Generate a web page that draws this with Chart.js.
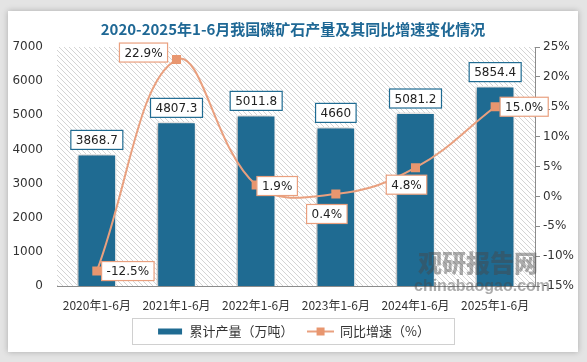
<!DOCTYPE html>
<html lang="zh">
<head>
    <meta charset="UTF-8">
    <title>2020-2025年1-6月我国磷矿石产量及其同比增速变化情况</title>
    <style>
        body {
            margin: 0;
            padding: 0;
            width: 587px;
            height: 362px;
            background-color: #e4e4e4;
            font-family: "Noto Sans CJK SC", "Noto Sans", sans-serif;
            overflow: hidden;
        }

        #card {
            position: absolute;
            left: 8px;
            top: 11px;
            width: 570px;
            height: 341px;
            background-color: #fff;
            box-shadow: 0 0 6px rgba(0, 0, 0, 0.25);
        }

        .wm {
            position: absolute;
            color: rgba(70, 70, 70, 0.45);
            pointer-events: none;
            line-height: 1;
            white-space: nowrap;
        }

        #wm-cn {
            left: 418px;
            top: 250px;
            font-size: 24px;
            font-weight: 900;
        }

        #wm-en {
            left: 414px;
            top: 278px;
            font-family: "Liberation Sans", sans-serif;
            font-size: 16px;
            font-weight: bold;
        }
    </style>
    <script src="https://cdn.jsdelivr.net/npm/chart.js"></script>
</head>
<body>

<div id="card">
    <canvas id="phosphateChart"></canvas>
</div>
<div class="wm" id="wm-cn">观研报告网</div>
<div class="wm" id="wm-en">chinabaogao.com</div>

<script>
    // data
    const categories = ['2020年1-6月', '2021年1-6月', '2022年1-6月', '2023年1-6月', '2024年1-6月', '2025年1-6月'];
    const output = [3868.7, 4807.3, 5011.8, 4660, 5081.2, 5854.4];
    const growth = [-12.5, 22.9, 1.9, 0.4, 4.8, 15.0];
    const leftTicks = [0, 1000, 2000, 3000, 4000, 5000, 6000, 7000];
    const rightTicks = [-15, -10, -5, 0, 5, 10, 15, 20, 25];

    // where each growth label sits, relative to its point (centre offset)
    const growthLabelOffsets = [[31, 0], [-33, -7], [21, 1], [-9, 20], [-9, 17], [29, 0]];

    const barColor = '#1f6b92';
    const lineColor = '#e9a07f';
    const markerColor = '#e8966f';

    function makeHatch() {
        const c = document.createElement('canvas');
        c.width = 5;
        c.height = 5;
        const g = c.getContext('2d');
        g.strokeStyle = '#d4d4d4';
        g.lineWidth = 1;
        g.beginPath();
        g.moveTo(-1, -1); g.lineTo(6, 6);
        g.moveTo(-1, 4); g.lineTo(1, 6);
        g.moveTo(4, -1); g.lineTo(6, 1);
        g.stroke();
        return c;
    }

    function legendIcon(kind) {
        const c = document.createElement('canvas');
        c.width = 27;
        c.height = 10;
        const g = c.getContext('2d');
        if (kind === 'bar') {
            g.fillStyle = barColor;
            g.fillRect(2, 2, 24, 6);
        } else {
            g.strokeStyle = lineColor;
            g.lineWidth = 2;
            g.beginPath();
            g.moveTo(0, 5); g.lineTo(27, 5);
            g.stroke();
            g.fillStyle = markerColor;
            g.fillRect(10, 1, 8, 8);
        }
        return c;
    }

    const hatchPlugin = {
        id: 'hatch',
        beforeDraw(chart) {
            const a = chart.chartArea;
            const ctx = chart.ctx;
            ctx.save();
            ctx.fillStyle = ctx.createPattern(makeHatch(), 'repeat');
            ctx.fillRect(a.left, a.top, a.right - a.left, a.bottom - a.top);
            ctx.restore();
        }
    };

    const barShadow = {
        id: 'barShadow',
        beforeDatasetDraw(chart, args) {
            if (args.index !== 0) return;
            chart.ctx.save();
            chart.ctx.shadowColor = 'rgba(0,0,0,0.35)';
            chart.ctx.shadowBlur = 6;
            chart.ctx.shadowOffsetX = -2;
            chart.ctx.shadowOffsetY = 1;
        },
        afterDatasetDraw(chart, args) {
            if (args.index !== 0) return;
            chart.ctx.restore();
        }
    };

    function drawBox(ctx, text, cx, cy, border) {
        ctx.font = '12px "DejaVu Sans", sans-serif';
        const w = ctx.measureText(text).width + 10;
        const h = 19;
        ctx.fillStyle = '#fff';
        ctx.fillRect(cx - w / 2, cy - h / 2, w, h);
        ctx.strokeStyle = border;
        ctx.lineWidth = 1.2;
        ctx.strokeRect(cx - w / 2, cy - h / 2, w, h);
        ctx.fillStyle = '#222';
        ctx.textAlign = 'center';
        ctx.textBaseline = 'middle';
        ctx.fillText(text, cx, cy + 1);
    }

    const valueLabels = {
        id: 'valueLabels',
        afterDraw(chart) {
            const ctx = chart.ctx;
            ctx.save();
            chart.getDatasetMeta(0).data.forEach((bar, i) => {
                drawBox(ctx, String(output[i]), bar.x, bar.y - 14, barColor);
            });
            chart.getDatasetMeta(1).data.forEach((pt, i) => {
                const off = growthLabelOffsets[i];
                drawBox(ctx, growth[i].toFixed(1) + '%', pt.x + off[0], pt.y + off[1], lineColor);
            });

            // frame round the legend
            const boxes = chart.legend.legendHitBoxes;
            if (boxes && boxes.length) {
                const first = boxes[0];
                const last = boxes[boxes.length - 1];
                const left = first.left - 23.5;
                const right = last.left + last.width + 24.5;
                ctx.strokeStyle = '#d0d0d0';
                ctx.lineWidth = 1;
                ctx.strokeRect(left, first.top - 6.5, right - left, first.height + 13);
            }
            ctx.restore();
        }
    };

    const ctx = document.getElementById('phosphateChart').getContext('2d');
    new Chart(ctx, {
        data: {
            labels: categories,
            datasets: [
                {
                    type: 'bar',
                    label: '累计产量（万吨）',
                    data: output,
                    yAxisID: 'y',
                    backgroundColor: barColor,
                    borderColor: '#fff',
                    borderWidth: 1.5,
                    barPercentage: 0.54,
                    categoryPercentage: 0.92,
                    order: 2
                },
                {
                    type: 'line',
                    label: '同比增速（%）',
                    data: growth,
                    yAxisID: 'y1',
                    borderColor: lineColor,
                    borderWidth: 2,
                    tension: 0.4,
                    pointStyle: 'rect',
                    pointRadius: 5,
                    pointBackgroundColor: markerColor,
                    pointBorderColor: markerColor,
                    order: 1
                }
            ]
        },
        options: {
            responsive: true,
            maintainAspectRatio: false,
            animation: false,
            layout: { padding: { left: 0, right: 0, top: 0, bottom: 4 } },
            plugins: {
                title: {
                    display: true,
                    text: '2020-2025年1-6月我国磷矿石产量及其同比增速变化情况',
                    color: '#1f6895',
                    font: { size: 15, weight: 'bold', family: '"Noto Sans CJK SC", sans-serif' },
                    padding: { top: 9, bottom: 9 }
                },
                legend: {
                    position: 'bottom',
                    labels: {
                        color: '#333',
                        font: { size: 13, family: '"Noto Sans CJK SC", sans-serif' },
                        usePointStyle: true,
                        pointStyleWidth: 27,
                        padding: 13,
                        generateLabels() {
                            return [
                                { text: '累计产量（万吨）', pointStyle: legendIcon('bar'), fontColor: '#333', datasetIndex: 0 },
                                { text: '同比增速（%）', pointStyle: legendIcon('line'), fontColor: '#333', datasetIndex: 1 }
                            ];
                        }
                    }
                },
                tooltip: { enabled: false }
            },
            scales: {
                x: {
                    grid: { display: false },
                    border: { display: true, color: '#8c8c8c' },
                    ticks: { color: '#333', font: { size: 12, family: '"Noto Sans CJK SC", sans-serif' }, maxRotation: 0, padding: 4 },
                    afterFit(scale) { scale.height = 26; }
                },
                y: {
                    position: 'left',
                    min: 0,
                    max: 7000,
                    afterBuildTicks(scale) { scale.ticks = leftTicks.map(v => ({ value: v })); },
                    grid: { display: false },
                    border: { display: false },
                    ticks: { color: '#333', font: { size: 12, family: '"DejaVu Sans", sans-serif' }, padding: 6, callback: v => String(v) },
                    afterFit(scale) { scale.width = 49; }
                },
                y1: {
                    position: 'right',
                    min: -15,
                    max: 25,
                    afterBuildTicks(scale) { scale.ticks = rightTicks.map(v => ({ value: v })); },
                    grid: { drawOnChartArea: false, drawTicks: true, tickLength: 5, color: '#8c8c8c' },
                    border: { display: true, color: '#8c8c8c' },
                    ticks: { color: '#333', font: { size: 12, family: '"DejaVu Sans", sans-serif' }, padding: 3, callback: v => v + '%' },
                    afterFit(scale) { scale.width = 43; }
                }
            }
        },
        plugins: [hatchPlugin, barShadow, valueLabels]
    });
</script>
</body>
</html>
